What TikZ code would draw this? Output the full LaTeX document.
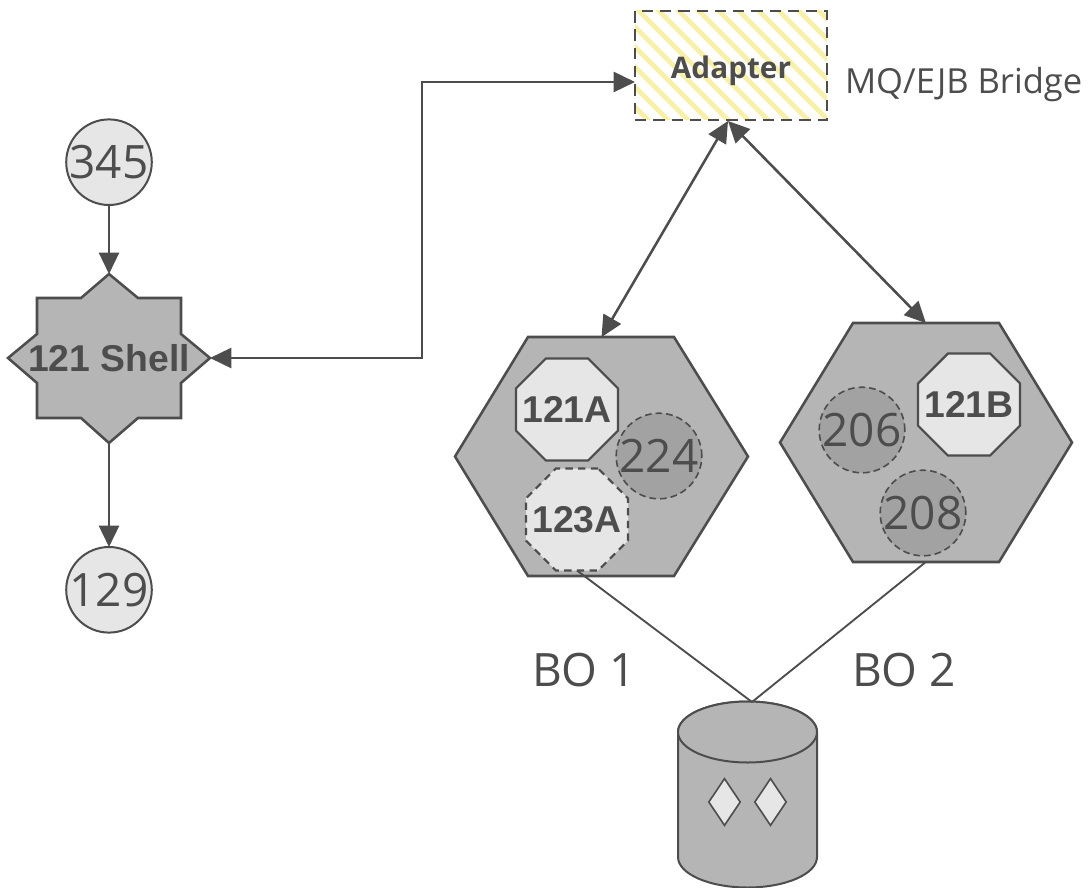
\documentclass[tikz,border=0pt]{standalone}
\usepackage{fontspec}
\setmainfont{Open Sans}
\newfontfamily\arialfont{Liberation Sans}
\usetikzlibrary{arrows.meta, positioning, calc, shapes.geometric}
\definecolor{ink}{HTML}{4D4D4D}
\definecolor{midgray}{HTML}{B5B5B5}
\definecolor{lightgray}{HTML}{E6E6E6}
\definecolor{darkgray}{HTML}{A2A2A2}
\definecolor{stripe}{HTML}{F8F0A8}

\begin{document}
\begin{tikzpicture}[
  x=0.75pt, y=-0.75pt,
  every node/.style = {text=ink, inner sep=0pt, outer sep=0pt},
  numtext/.style = {font=\fontsize{34.5}{35}\selectfont},
  boldtext/.style = {font=\arialfont\bfseries\fontsize{28}{28}\selectfont},
  circ/.style = {draw=ink, circle, line width=1.5pt, fill=lightgray, minimum size=63pt, numtext},
  dashcirc/.style = {draw=ink, circle, line width=1.2pt, dash pattern=on 5pt off 3pt, fill=darkgray, minimum size=63pt, numtext},
  octa/.style = {draw=ink, regular polygon, regular polygon sides=8, line width=1.7pt, fill=lightgray, minimum size=82.8pt, boldtext},
  dashocta/.style = {octa, dash pattern=on 5.5pt off 4pt},
  hull/.style = {draw=ink, line width=1.9pt, fill=midgray, line join=miter},
  holder/.style = {minimum width=219.5pt, minimum height=179pt},
  gem/.style = {draw=ink, diamond, line width=1.2pt, fill=lightgray, minimum width=23.5pt, minimum height=35pt},
  link/.style = {draw=ink, line width=1.9pt},
  arrow/.style = {link, -{Triangle[length=16pt, width=15pt]}},
  dblarrow/.style = {link, {Triangle[length=16pt, width=15pt]}-{Triangle[length=16pt, width=15pt]}}
]
  \useasboundingbox (0,0) rectangle (1088,888);

  % Shell
  \draw[hull] (109,274) -- (138,298) -- (181,298) -- (181,334) -- (210,358) -- (181,383)
    -- (181,418) -- (138,418) -- (109,443) -- (81,418) -- (37,418) -- (37,383) -- (8,358)
    -- (37,334) -- (37,298) -- (81,298) -- cycle;
  \node[boldtext, minimum width=151.5pt, minimum height=126.75pt] (shell) at (109,358.5) {121 Shell};

  % Circles on the left
  \node[circ, above=51.75pt of shell] (top345) {345};
  \node[circ, below=78pt of shell] (low129) {129};

  % Adapter
  \node[draw=ink, line width=2.2pt, dash pattern=on 8.5pt off 5.2pt, minimum width=144pt, minimum height=81.75pt,
    path picture={
      \foreach \i in {-120,-100,...,220}
        \draw[stripe, solid, line width=3.5pt] ($(path picture bounding box.north west)+(\i,-4)$) -- +(120,120);
    }] (adapter) at (731,65.5) {};
  \node[font=\bfseries\fontsize{22.3}{22}\selectfont] (adaptertext) at (731,71) {Adapter};
  \node[anchor=west, font=\fontsize{25.9}{26}\selectfont] (bridge) at (845,85) {MQ/EJB Bridge};

  % Hexagon one
  \draw[hull] (455,456.5) -- (528,337) -- (674,337) -- (748,456.5) -- (674,576) -- (528,576) -- cycle;
  \node[holder] (hexa) at (601.5,456.5) {};
  \node[octa] (octa) at (567,409.5) {\makebox[0pt]{121A}};
  \node[dashcirc] (c224) at (659,456) {224};
  \node[dashocta] (octb) at (577,519.5) {\makebox[0pt]{123A}};

  % Hexagon two
  \draw[hull] (780,442.5) -- (853,323) -- (999,323) -- (1072,442.5) -- (999,562) -- (853,562) -- cycle;
  \node[holder] (hexb) at (926,442.5) {};
  \node[dashcirc] (c206) at (862,430) {206};
  \node[octa] (octc) at (969,404.5) {\makebox[0pt]{121B}};
  \node[dashcirc] (c208) at (923,513) {208};

  % Database
  \draw[hull, line width=1.5pt] (678,732) -- (678,857) arc[start angle=180, end angle=0, x radius=69.5, y radius=30.5]
    -- (817,732) arc[start angle=0, end angle=180, x radius=69.5, y radius=-30.5];
  \draw[hull, line width=1.5pt] (747.5,732) ellipse [x radius=69.5, y radius=30.5];
  \node[minimum width=104pt, minimum height=138.75pt] (store) at (747.5,794.5) {};
  \node[gem] (gema) at (724.5,802) {};
  \node[gem] (gemb) at (770.5,802) {};

  % Labels
  \node[numtext] (boa) at (584,670) {BO 1};
  \node[numtext] (bob) at (904,670) {BO 2};

  % Connections
  \coordinate (busa) at (422,358);
  \coordinate (busb) at (422,82);
  \coordinate (adapterin) at (635,82);
  \coordinate (adapterout) at (728,121);
  \coordinate (storetop) at (752,702);
  \draw[arrow] (top345.south) -- (shell.north);
  \draw[arrow] (shell.south) -- (low129.north);
  \draw[dblarrow] (shell.east |- busa) -- (busa) -- (busb) -- (adapterin);
  \draw[dblarrow] (adapterout) -- (hexa.north);
  \draw[dblarrow] (adapterout) -- (hexb.north);
  \draw[draw=ink, line width=1.4pt] (octb.south) -- (storetop);
  \draw[draw=ink, line width=1.4pt] (hexb.south) -- (storetop);

\end{tikzpicture}
\end{document}
